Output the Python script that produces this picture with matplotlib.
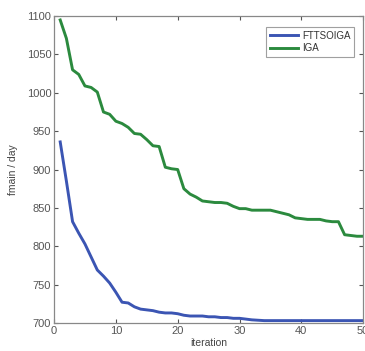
import matplotlib
matplotlib.use("Agg")
import matplotlib.pyplot as plt

plt.rcParams["font.family"] = ["Liberation Sans", "DejaVu Sans"]

iterations = list(range(1, 51))
iga = [1095, 1071, 1030, 1024, 1009, 1007, 1001, 975, 972, 963,
       960, 955, 947, 946, 939, 931, 930, 903, 901, 900,
       875, 868, 864, 859, 858, 857, 857, 856, 852, 849,
       849, 847, 847, 847, 847, 845, 843, 841, 837, 836,
       835, 835, 835, 833, 832, 832, 815, 814, 813, 813]
fttsoiga = [936, 885, 832, 817, 803, 786, 769, 761, 752, 740,
            727, 726, 721, 718, 717, 716, 714, 713, 713, 712,
            710, 709, 709, 709, 708, 708, 707, 707, 706, 706,
            705, 704, 703.5, 703, 703, 703, 703, 703, 703, 703,
            703, 703, 703, 703, 703, 703, 703, 703, 703, 703]
series_names = ["FTTSOIGA", "IGA"]
x_ticks = [0, 10, 20, 30, 40, 50]
y_ticks = [700, 750, 800, 850, 900, 950, 1000, 1050, 1100]

fig = plt.figure(figsize=(3.65, 3.51), dpi=100)
ax = fig.add_axes([0.148, 0.080, 0.847, 0.874])
ax.plot(iterations, fttsoiga, color="#3b55b3", lw=2.1, label=series_names[0])
ax.plot(iterations, iga, color="#2b8a3e", lw=2.1, label=series_names[1])
ax.set_xlim(0, 50)
ax.set_ylim(700, 1100)
ax.set_xticks(x_ticks)
ax.set_yticks(y_ticks)
ax.tick_params(direction="in", top=True, right=True, labelsize=8,
               colors="#555555", length=3, width=0.8, pad=2)
for s in ax.spines.values():
    s.set_color("#888888")
    s.set_linewidth(0.9)
ax.set_xlabel("iteration", fontsize=7.5, color="#444444", labelpad=2)
ax.set_ylabel("fmain / day", fontsize=7.5, color="#444444", labelpad=6)
leg = ax.legend(loc="upper right", fontsize=7, frameon=True, fancybox=False,
                edgecolor="#888888", handlelength=2.9, handletextpad=0.4,
                borderpad=0.35, labelspacing=0.3,
                bbox_to_anchor=(0.985, 0.98))
leg.get_frame().set_linewidth(0.8)
for t in leg.get_texts():
    t.set_color("#333333")
fig.savefig("out.png", dpi=100)
